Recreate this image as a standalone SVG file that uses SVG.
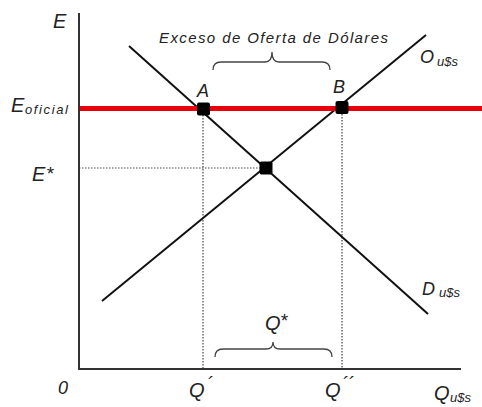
<svg xmlns="http://www.w3.org/2000/svg" width="482" height="407" viewBox="0 0 482 407">
<style>
.t{font-family:"Liberation Sans",Arial,sans-serif;font-style:italic;fill:#222}
.big{font-size:20px}
.mid{font-size:18px}
.sm{font-size:13px}
.star{font-size:19px}
.lbl{font-size:15px}
.axis{stroke:#333;stroke-width:2;fill:none}
.curve{stroke:#111;stroke-width:2;fill:none}
.dot{stroke:#444;stroke-width:1.2;stroke-dasharray:1.5 1.5;fill:none}
.brace{stroke:#444;stroke-width:1.3;fill:none}
.pt{fill:#000}
</style>
<rect width="482" height="407" fill="#fff"/>
<g id="connectors">
  <line class="dot" x1="79" y1="168" x2="266" y2="168"/>
  <line class="dot" x1="203" y1="109" x2="203" y2="369"/>
  <line class="dot" x1="342" y1="108" x2="342" y2="369"/>
  <line class="curve" x1="129" y1="46" x2="428" y2="314"/>
  <line class="curve" x1="102" y1="301" x2="426" y2="35"/>
  <line x1="80" y1="108.5" x2="482" y2="108.5" stroke="#e8000b" stroke-width="5"/>
</g>
<g id="axes">
  <polyline class="axis" points="79,13 79,369 461,369"/>
</g>
<g id="pointA">
  <rect class="pt" x="197" y="102.5" width="13" height="13" rx="2"/>
  <text class="t mid" x="197" y="97">A</text>
</g>
<g id="pointB">
  <rect class="pt" x="335.5" y="101" width="13" height="13" rx="2"/>
  <text class="t mid" x="333" y="93">B</text>
</g>
<g id="equilibrium">
  <rect class="pt" x="259.5" y="161.5" width="13" height="13" rx="2"/>
</g>
<g id="braceTop">
  <path class="brace" d="M213,70 Q213,62 221,62 L265,62 Q272,62 272,52 Q272,62 279,62 L322,62 Q330,62 330,70"/>
  <text class="t lbl" x="159" y="43" textLength="229" lengthAdjust="spacing">Exceso de Oferta de Dólares</text>
</g>
<g id="braceBottom">
  <path class="brace" d="M215,357 Q215,349 223,349 L266,349 Q273,349 273,342 Q273,349 280,349 L324,349 Q332,349 332,357"/>
  <text class="t big" x="265" y="330">Q</text>
  <text class="t star" x="280" y="327">*</text>
</g>
<g id="labels">
  <text class="t big" x="53" y="28">E</text>
  <text class="t big" x="11" y="112">E</text>
  <text class="t sm" x="25" y="114" textLength="43" lengthAdjust="spacing">oficial</text>
  <text class="t big" x="32" y="181">E</text>
  <text class="t star" x="46" y="180">*</text>
  <text class="t mid" x="420" y="63">O</text>
  <text class="t sm" x="437" y="66">u$s</text>
  <text class="t mid" x="422" y="295">D</text>
  <text class="t sm" x="439" y="297">u$s</text>
  <text class="t mid" x="58" y="394">0</text>
  <text class="t big" x="189" y="397">Q</text>
  <text class="t mid" x="207" y="390">´</text>
  <text class="t big" x="325" y="397">Q</text>
  <text class="t mid" x="342" y="390">´´</text>
  <text class="t big" x="434" y="400">Q</text>
  <text class="t sm" x="450" y="402">u$s</text>
</g>
</svg>
